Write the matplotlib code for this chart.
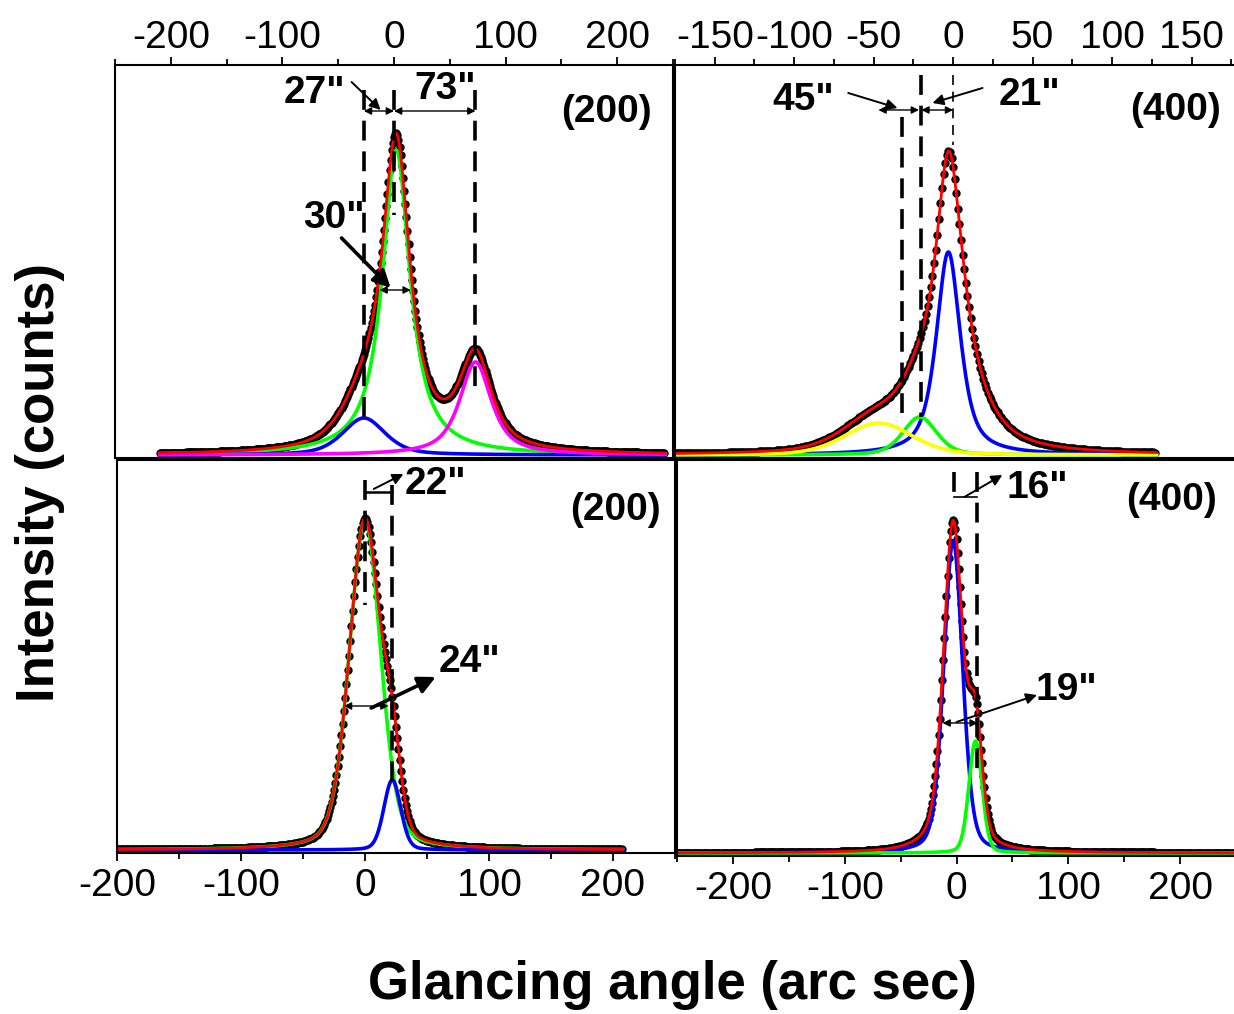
import numpy as np
import matplotlib.pyplot as plt

plt.rcParams['font.family'] = ['Liberation Sans', 'DejaVu Sans']
plt.rcParams['axes.unicode_minus'] = False

# fitted peak components
# centre (arc sec), height (counts, arbitrary), FWHM (arc sec), lorentzian fraction
tl_center = [2, -27, 73]
tl_height = [305, 37, 93]
tl_fwhm = [30, 45, 34]
tl_eta = [0.95, 0.5, 0.8]
tl_color = ['#00ff00', '#0000ff', '#ff00ff']
tl_span = (-210, 243)

tr_center = [-3, -21, -47]
tr_height = [203, 38, 32]
tr_fwhm = [18, 25, 50]
tr_eta = [0.7, 0.4, 0.3]
tr_color = ['#0000ff', '#00ff00', '#ffff00']
tr_span = (-176, 128)
# part of the fit envelope not shown as a separate curve
tr_extra = [(3, 95, 35, 0.8)]

bl_center = [0, 22]
bl_height = [330, 70]
bl_fwhm = [30, 16]
bl_eta = [0.3, 0.2]
bl_color = ['#00ff00', '#0000ff']
bl_span = (-200, 208)

br_center = [-3, 17]
br_height = [312, 112]
br_fwhm = [20, 14]
br_eta = [0.3, 0.2]
br_color = ['#0000ff', '#00ff00']
br_span = (-250, 250)
br_extra = [(-2, 18, 50, 0.5)]


def pvoigt(x, c, h, w, eta):
    lor = 1.0 / (1.0 + (2 * (x - c) / w) ** 2)
    gau = np.exp(-4 * np.log(2) * ((x - c) / w) ** 2)
    return h * (eta * lor + (1 - eta) * gau)


def draw_panel(ax, centers, heights, fwhms, etas, colors, span, extra=()):
    x = np.linspace(span[0], span[1], 900)
    comps = [pvoigt(x, c, h, w, e) for c, h, w, e in zip(centers, heights, fwhms, etas)]
    total = np.sum(comps, axis=0)
    for p in extra:
        total = total + pvoigt(x, *p)
    xd = np.arange(span[0], span[1], 1.0)
    yd = np.interp(xd, x, total)
    ax.plot(xd, yd, 'o', color='black', ms=5, mec='black')
    for y, col in zip(comps, colors):
        ax.plot(x, y, color=col, lw=2.6)
    ax.plot(x, total, color='#ff0000', lw=2.0)


def vdash(ax, x, y0, y1, lw=2.6):
    ax.plot([x, x], [y0, y1], color='black', lw=lw, ls=(0, (5.5, 3)) if lw > 2 else (0, (6, 4)))


def dbl(ax, x0, x1, y):
    ax.annotate('', xy=(x1, y), xytext=(x0, y),
                arrowprops=dict(arrowstyle='<|-|>', color='black', lw=1.0, mutation_scale=11,
                                shrinkA=0, shrinkB=0))


def arr(ax, start, end, lw=1.4, ms=16):
    ax.annotate('', xy=end, xytext=start,
                arrowprops=dict(arrowstyle='-|>', color='black', lw=lw, mutation_scale=ms,
                                shrinkA=0, shrinkB=0))


W, H = 1234, 1014
fig = plt.figure(figsize=(W / 100, H / 100), dpi=100)


def box(x0, y0, x1, y1):
    return [x0 / W, 1 - y1 / H, (x1 - x0) / W, (y1 - y0) / H]


ax_tl = fig.add_axes(box(115, 65, 673, 458))
ax_tr = fig.add_axes(box(675, 65, 1236, 458))
ax_bl = fig.add_axes(box(117, 460, 675, 853))
ax_br = fig.add_axes(box(677, 460, 1236, 856))

draw_panel(ax_tl, tl_center, tl_height, tl_fwhm, tl_eta, tl_color, tl_span)
draw_panel(ax_tr, tr_center, tr_height, tr_fwhm, tr_eta, tr_color, tr_span, tr_extra)
draw_panel(ax_bl, bl_center, bl_height, bl_fwhm, bl_eta, bl_color, bl_span)
draw_panel(ax_br, br_center, br_height, br_fwhm, br_eta, br_color, br_span, br_extra)

ax_tl.set_xlim(-250, 250)
ax_tr.set_xlim(-174, 178)
ax_bl.set_xlim(-200, 250)
ax_br.set_xlim(-250, 250)
for ax in (ax_tl, ax_tr, ax_bl):
    ax.set_ylim(-3, 390)
ax_br.set_ylim(-3, 393)

for ax in (ax_tl, ax_tr, ax_bl, ax_br):
    for s in ax.spines.values():
        s.set_linewidth(1.5)
    ax.set_yticks([])
    ax.tick_params(axis='x', which='major', direction='out', length=6, width=1.3,
                   labelsize=28, pad=5)
    ax.tick_params(axis='x', which='minor', direction='out', length=4, width=1.3)

for ax in (ax_tl, ax_tr):
    ax.xaxis.tick_top()
    ax.tick_params(axis='x', which='major', pad=0.5)
ax_tl.set_xticks([-200, -100, 0, 100, 200])
ax_tl.set_xticks(np.arange(-250, 251, 50), minor=True)
ax_tr.set_xticks([-150, -100, -50, 0, 50, 100, 150])
ax_tr.set_xticks(np.arange(-175, 176, 25), minor=True)
ax_bl.set_xticks([-200, -100, 0, 100, 200])
ax_bl.set_xticks(np.arange(-200, 251, 50), minor=True)
ax_br.set_xticks([-200, -100, 0, 100, 200])
ax_br.set_xticks(np.arange(-250, 251, 50), minor=True)

bold = dict(fontsize=28, fontweight='bold', ha='center', va='center')

# top left (200)
vdash(ax_tl, -27, 365, 30)
vdash(ax_tl, 0, 365, 240)
vdash(ax_tl, 73, 365, 68)
dbl(ax_tl, -27, 0, 344)
dbl(ax_tl, 0, 73, 344)
ax_tl.text(-71, 362, '27"', **bold)
arr(ax_tl, (-38, 373), (-12, 345))
ax_tl.text(46, 366, '73"', **bold)
ax_tl.text(190, 343, '(200)', **bold)
ax_tl.text(-54, 237, '30"', **bold)
arr(ax_tl, (-47, 217), (-3, 167), lw=2.6, ms=26)
dbl(ax_tl, -13, 15, 165)

# top right (400)
vdash(ax_tr, 0, 380, 310, lw=1.2)
vdash(ax_tr, -20, 380, 38)
vdash(ax_tr, -32, 338, 42)
dbl(ax_tr, -47, -21.5, 345)
dbl(ax_tr, -20, 0, 345)
ax_tr.text(-94, 355, '45"', **bold)
arr(ax_tr, (-66, 362), (-35, 347))
ax_tr.text(48, 360, '21"', **bold)
arr(ax_tr, (18.5, 367), (-13, 352))
ax_tr.text(140, 345, '(400)', **bold)

# bottom left (200)
vdash(ax_bl, 0, 370, 245)
vdash(ax_bl, 22, 365, 65)
ax_bl.plot([0, 22], [358, 358], color='black', lw=1.8)
arr(ax_bl, (7, 361), (31, 376))
ax_bl.text(57, 366, '22"', **bold)
ax_bl.text(202, 340, '(200)', **bold)
ax_bl.text(84, 188, '24"', **bold)
arr(ax_bl, (5, 142), (57, 173), lw=2.6, ms=26)
dbl(ax_bl, -17, 19, 144)

# bottom right (400)
vdash(ax_br, -2, 381, 358)
vdash(ax_br, 18, 381, 80)
ax_br.plot([-2, 18], [356, 356], color='black', lw=1.2)
arr(ax_br, (7, 356), (41, 378))
ax_br.text(72, 365, '16"', **bold)
ax_br.text(192, 353, '(400)', **bold)
ax_br.text(98, 163, '19"', **bold)
dbl(ax_br, -12.5, 19, 130)
arr(ax_br, (0, 131), (72, 158))

fig.text(40 / W, 1 - 483 / H, 'Intensity (counts)', rotation=90, fontsize=38,
         fontweight='bold', ha='center', va='center')
fig.text(672 / W, 1 - 985 / H, 'Glancing angle (arc sec)', fontsize=38,
         fontweight='bold', ha='center', va='center')

fig.savefig('out.png', dpi=100)
